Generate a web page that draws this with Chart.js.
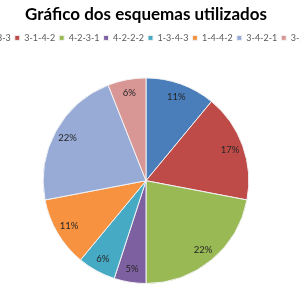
<!DOCTYPE html>
<html>
<head>
<meta charset="utf-8">
<script src="https://cdn.jsdelivr.net/npm/chart.js@4.4.0/dist/chart.umd.min.js"></script>
<style>
  html, body { margin: 0; padding: 0; background: #fff; overflow: hidden; }
  #wrap { position: absolute; left: -54px; top: 0; width: 400px; height: 300px; }
</style>
</head>
<body>
<div id="wrap"><canvas id="myChart" width="400" height="300"></canvas></div>
<script>
const labels = ['4-3-3', '3-1-4-2', '4-2-3-1', '4-2-2-2', '1-3-4-3', '1-4-4-2', '3-4-2-1', '3-5-2'];
const values = [11, 17, 22, 5, 6, 11, 22, 6];
const colors = ['#4A7EBB', '#BE4B48', '#98B954', '#7D60A0', '#46AAC5', '#F69240', '#97ABD6', '#D89695'];

// percent labels inside the slices
const pctLabels = {
  id: 'pctLabels',
  afterDatasetsDraw(chart) {
    const ctx = chart.ctx;
    const meta = chart.getDatasetMeta(0);
    const total = values.reduce((a, b) => a + b, 0);
    ctx.save();
    ctx.font = '9.5px Lato';
    ctx.fillStyle = '#262626';
    ctx.textAlign = 'center';
    ctx.textBaseline = 'middle';
    meta.data.forEach((arc, i) => {
      const p = arc.getProps(['x', 'y', 'startAngle', 'endAngle', 'outerRadius'], true);
      const mid = (p.startAngle + p.endAngle) / 2;
      const r = p.outerRadius * 0.87;
      ctx.fillText(Math.round(values[i] / total * 100) + '%', p.x + Math.cos(mid) * r, p.y + Math.sin(mid) * r);
    });
    ctx.restore();
  }
};

// extra space under the legend
const legendGap = {
  id: 'legendGap',
  beforeInit(chart) {
    const fit = chart.legend.fit;
    chart.legend.fit = function () {
      fit.bind(chart.legend)();
      this.height += 25;
    };
  }
};

new Chart('myChart', {
  type: 'pie',
  data: {
    labels: labels,
    datasets: [{
      data: values,
      backgroundColor: colors,
      borderColor: '#f2f2f2',
      borderWidth: 1
    }]
  },
  options: {
    responsive: false,
    animation: false,
    layout: { padding: { bottom: 16 } },
    plugins: {
      title: {
        display: true,
        text: 'Gráfico dos esquemas utilizados',
        color: '#000',
        font: { family: 'Lato', size: 17, weight: 'bold' },
        padding: { top: 4, bottom: 5 }
      },
      legend: {
        position: 'top',
        labels: {
          boxWidth: 5,
          boxHeight: 5,
          padding: 4,
          color: '#595959',
          font: { family: 'Lato', size: 9 }
        }
      },
      tooltip: { enabled: false }
    }
  },
  plugins: [pctLabels, legendGap]
});
</script>
</body>
</html>
